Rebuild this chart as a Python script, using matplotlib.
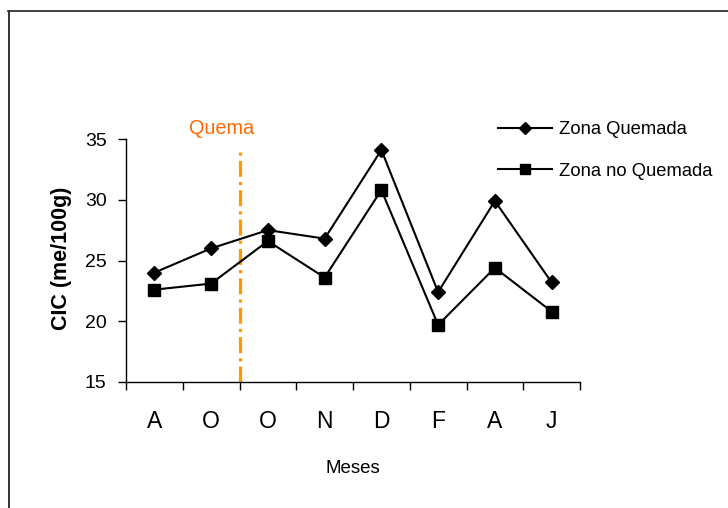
import matplotlib
matplotlib.use("Agg")
import matplotlib.pyplot as plt
from matplotlib.lines import Line2D

# CIC per sampling month, burned vs unburned plots
meses = ["A", "O", "O", "N", "D", "F", "A", "J"]
zona_quemada = [24.0, 26.0, 27.5, 26.8, 34.1, 22.4, 29.9, 23.2]
zona_no_quemada = [22.6, 23.1, 26.6, 23.6, 30.8, 19.7, 24.4, 20.8]
quema_pos = 2  # burn happened between the two "O" samples

plt.rcParams["font.family"] = ["Liberation Sans", "DejaVu Sans"]
orange_line = "#FF9900"
orange_text = "#FF6A00"

fig = plt.figure(figsize=(7.28, 5.08), dpi=100)
ax = fig.add_axes([126 / 728, 1 - 382 / 508, 454 / 728, 243 / 508])

x = [i + 0.5 for i in range(len(meses))]
ax.plot(x, zona_quemada, color="black", lw=1.5, marker="D", ms=7,
        label="Zona Quemada")
ax.plot(x, zona_no_quemada, color="black", lw=1.5, marker="s", ms=8.5,
        label="Zona no Quemada")

# burn marker
ax.plot([quema_pos, quema_pos], [15, 34.1], color=orange_line, lw=2.3,
        dashes=[5, 1.6, 1, 1.6], clip_on=False, zorder=1)
ax.text(1.69, 35.9, "Quema", color=orange_text, fontsize=14.3, ha="center",
        va="center", clip_on=False)

ax.set_xlim(0, len(meses))
ax.set_ylim(15, 35)
ax.set_yticks([15, 20, 25, 30, 35])
ax.set_xticks(range(len(meses) + 1))
ax.set_xticklabels([])
ax.set_xticks(x, minor=True)
ax.set_xticklabels(meses, minor=True, fontsize=16.5)
ax.tick_params(axis="x", which="major", length=6, width=1, direction="out")
ax.tick_params(axis="x", which="minor", length=0, pad=20)
ax.tick_params(axis="y", length=6, width=1, pad=8, labelsize=14)

for side in ["top", "right"]:
    ax.spines[side].set_visible(False)
for side in ["left", "bottom"]:
    ax.spines[side].set_linewidth(1)

ax.set_xlabel("Meses", fontsize=13.5, labelpad=19.5)
fig.text(62 / 728, 1 - 258 / 508, "CIC (me/100g)", rotation=90,
         ha="center", va="center", fontsize=15.5, fontweight="bold")

ax.legend(loc="upper left", bbox_to_anchor=(498 / 728, 1 - 121 / 508),
          bbox_transform=fig.transFigure, frameon=False, borderpad=0,
          borderaxespad=0, handlelength=2.95, handletextpad=0.38,
          labelspacing=1.35, fontsize=13.2, markerscale=0.85)

# page border, top and left only
fig.add_artist(Line2D([8.5 / 728, 8.5 / 728], [0, 1 - 10.5 / 508],
                      transform=fig.transFigure, color="#222222", lw=1.3))
fig.add_artist(Line2D([8 / 728, 1], [1 - 10.5 / 508, 1 - 10.5 / 508],
                      transform=fig.transFigure, color="#333333", lw=1.3))

fig.savefig("out.png", dpi=100)
